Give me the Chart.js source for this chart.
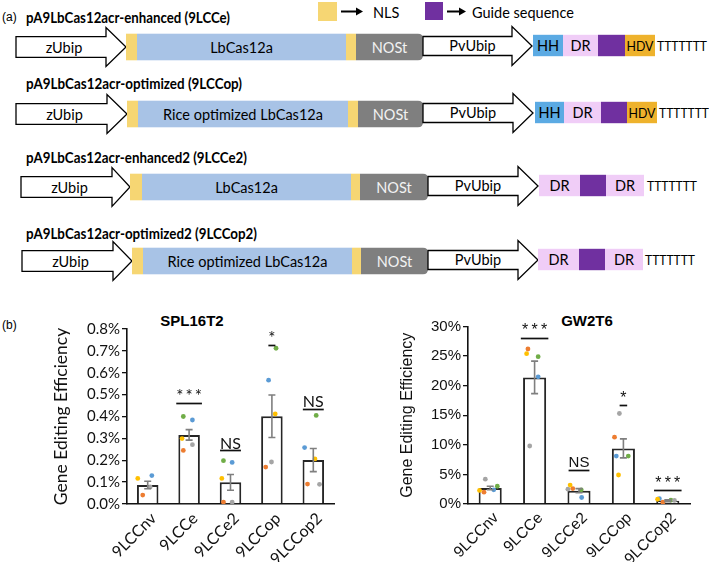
<!DOCTYPE html>
<html>
<head>
<meta charset="utf-8">
<script src="https://cdn.jsdelivr.net/npm/chart.js@4.4.1/dist/chart.umd.min.js"></script>
<style>
  html, body { margin: 0; padding: 0; background: #fff; width: 709px; height: 562px; overflow: hidden; }
  #diagram { position: absolute; left: 0; top: 0; }
  .box { position: absolute; }
  #lbl-b { position: absolute; left: 2px; top: 318px; font: 12px "Liberation Sans", Arial, sans-serif; }
  .ctitle { position: absolute; font: bold 15px "Liberation Sans", Arial, sans-serif; transform: translate(-50%, -50%); }
</style>
</head>
<body>
<svg id="diagram" width="709" height="300" xmlns="http://www.w3.org/2000/svg"></svg>
<div id="lbl-b">(b)</div>
<div class="ctitle" style="left:192px; top:320px">SPL16T2</div>
<div class="ctitle" style="left:587px; top:320px">GW2T6</div>
<div class="box" style="left:0; top:300px; width:345px; height:274px"><canvas id="spl-chart"></canvas></div>
<div class="box" style="left:355px; top:300px; width:354px; height:274px"><canvas id="gw-chart"></canvas></div>

<script>
// ---- data (values in %) ----
const categories = ["9LCCnv", "9LCCe", "9LCCe2", "9LCCop", "9LCCop2"]

// SPL16T2
const splMean = [0.087, 0.316, 0.099, 0.401, 0.201]
const splSem = [0.017, 0.024, 0.036, 0.097, 0.053]
const splYellow = [0.117, 0.299, 0.117, 0.412, 0.206]
const splOrange = [0.041, 0.245, 0.009, 0.169, 0.091]
const splGrey = [0.078, 0.271, 0.009, 0.192, 0.090]
const splBlue = [0.130, 0.384, 0.190, 0.566, 0.258]
const splGreen = [null, 0.400, 0.198, 0.712, 0.405]
// dot jitter, fraction of one category
const splYellowDx = [-0.24, -0.17, -0.21, 0.08, 0.04]
const splOrangeDx = [-0.12, -0.14, -0.17, -0.15, -0.14]
const splGreyDx = [0.06, 0.08, 0.04, -0.01, 0.15]
const splBlueDx = [0.10, 0.08, 0.04, -0.08, -0.21]
const splGreenDx = [0, -0.14, -0.17, 0.10, 0.07]
const splSigText = ["", "***", "NS", "*", "NS"]
const splSigY = [null, 0.508, 0.276, 0.773, 0.466]
const splSigLineY = [null, 0.462, 0.248, 0.727, 0.434]

// GW2T6
const gwMean = [2.7, 21.4, 2.25, 9.4, 0.55]
const gwSem = [0.3, 2.75, 0.35, 1.6, 0.15]
const gwYellow = [2.3, 25.4, 3.2, 4.9, 0.8]
const gwOrange = [2.0, 26.2, 2.6, 11.3, 0.3]
const gwGrey = [4.2, 9.8, 2.5, 15.3, 0.6]
const gwBlue = [2.4, 21.5, 1.1, 8.1, 0.9]
const gwGreen = [3.0, 24.9, 2.4, 8.1, 0.65]
const gwYellowDx = [-0.24, -0.18, -0.20, -0.11, -0.23]
const gwOrangeDx = [-0.14, -0.15, -0.14, -0.20, -0.11]
const gwGreyDx = [-0.11, -0.11, -0.25, -0.09, 0.15]
const gwBlueDx = [0.08, 0.08, 0.06, -0.16, -0.19]
const gwGreenDx = [0.16, 0.08, 0.05, 0.11, 0.07]
const gwSigText = ["", "***", "NS", "*", "***"]
const gwSigY = [null, 29.9, 7.0, 18.5, 4.05]
const gwSigLineY = [null, 28.0, 5.7, 16.8, 2.36]

const dotColors = { yellow: "#FFC000", orange: "#ED7D31", grey: "#A5A5A5", blue: "#5B9BD5", green: "#70AD47" }

// ---- construct diagram (part a) ----
const NS = "http://www.w3.org/2000/svg"
const svg = document.getElementById("diagram")
const FONT = "Lato, 'Open Sans', sans-serif"

function el(tag, attrs, text) {
  const e = document.createElementNS(NS, tag)
  for (const k in attrs) e.setAttribute(k, attrs[k])
  if (text != null) e.textContent = text
  svg.appendChild(e)
  return e
}
function label(x, y, text, size, opts = {}) {
  return el("text", Object.assign({
    x, y, "font-family": FONT, "font-size": size, "dominant-baseline": "central",
    "text-anchor": opts.anchor || "middle", fill: opts.fill || "#000",
    "font-weight": opts.weight || "normal"
  }, opts.extra || {}), text)
}
function arrow(x0, x1, x2, cy, bh, hh) {
  const pts = [[x0, cy - bh], [x1, cy - bh], [x1, cy - hh], [x2, cy], [x1, cy + hh], [x1, cy + bh], [x0, cy + bh]]
  el("polygon", { points: pts.map((p) => p.join(",")).join(" "), fill: "#fff", stroke: "#000", "stroke-width": 1.3 })
}

const rows = [
  { title: "pA9LbCas12acr-enhanced (9LCCe)", tw: 204, ty: 17, cy: 47, a1: [16, 106, 126], cas: [126, 137, 346, 356], casText: "LbCas12a", nos: 423, a2: [423, 512, 532],
    parts: [["HH", 533, 563], ["DR", 563, 598], ["", 598, 625], ["HDV", 625, 655]], t: 657 },
  { title: "pA9LbCas12acr-optimized (9LCCop)", tw: 216, ty: 83, cy: 114, a1: [16, 107, 127], cas: [127, 138, 348, 358], casText: "Rice optimized LbCas12a", nos: 423, a2: [423, 513, 533],
    parts: [["HH", 535, 564], ["DR", 564, 601], ["", 601, 627], ["HDV", 627, 657]], t: 659 },
  { title: "pA9LbCas12acr-enhanced2 (9LCCe2)", tw: 221, ty: 157, cy: 187, a1: [21, 112, 130], cas: [130, 142, 351, 360], casText: "LbCas12a", nos: 428, a2: [428, 518, 538],
    parts: [["DR", 539, 580], ["", 580, 606], ["DR", 606, 644]], t: 647 },
  { title: "pA9LbCas12acr-optimized2 (9LCCop2)", tw: 231, ty: 233, cy: 261, a1: [22, 113, 132], cas: [132, 143, 352, 361], casText: "Rice optimized LbCas12a", nos: 428, a2: [428, 518, 538],
    parts: [["DR", 538, 579], ["", 579, 605], ["DR", 605, 643]], t: 645 }
]
const partFill = { HH: "#5BAAE3", DR: "#F0CDF7", "": "#7030A0", HDV: "#EEB22C" }
const NLS_FILL = "#F6D673"

label(2, 17, "(a)", 12, { anchor: "start", extra: { "font-family": "'Liberation Sans', Arial, sans-serif" } })
rows.forEach((r) => {
  label(26, r.ty, r.title, 14.5, { anchor: "start", weight: "bold", extra: { textLength: r.tw, lengthAdjust: "spacingAndGlyphs" } })
  const cy = r.cy
  // promoter arrow
  arrow(r.a1[0], r.a1[1], r.a1[2], cy, 10.3, 19.4)
  label((r.a1[0] + r.a1[1]) / 2 + 3, cy, "zUbip", 14.5)
  // NLS - Cas - NLS
  const [n0, c0, c1, n1] = r.cas
  el("rect", { x: n0, y: cy - 13.3, width: c0 - n0, height: 26.6, fill: NLS_FILL })
  el("rect", { x: c0, y: cy - 13.3, width: c1 - c0, height: 26.6, fill: "#A8C3E6" })
  el("rect", { x: c1, y: cy - 13.3, width: n1 - c1, height: 26.6, fill: NLS_FILL })
  label((c0 + c1) / 2, cy, r.casText, 14.5)
  // NOSt terminator
  const rr = 5, top = cy - 13.3, bot = cy + 13.3
  el("path", { d: `M${n1},${top} H${r.nos - rr} Q${r.nos},${top} ${r.nos},${top + rr} V${bot - rr} Q${r.nos},${bot} ${r.nos - rr},${bot} H${n1} Z`, fill: "#7F7F7F" })
  label((n1 + r.nos) / 2, cy, "NOSt", 14.5, { fill: "#F2F2F2" })
  // pol III promoter arrow
  arrow(r.a2[0], r.a2[1], r.a2[2], cy - 1, 9.5, 19.5)
  label((r.a2[0] + r.a2[1]) / 2 + 5, cy - 2, "PvUbip", 14.5)
  // crRNA parts
  r.parts.forEach(([name, x0, x1]) => {
    el("rect", { x: x0, y: cy - 12.2, width: x1 - x0, height: 21.4, fill: partFill[name] })
    if (name === "HDV") label((x0 + x1) / 2, cy - 1.5, name, 14, { extra: { textLength: 27, lengthAdjust: "spacingAndGlyphs" } })
    else if (name) label((x0 + x1) / 2, cy - 1.5, name, 14.5)
  })
  label(r.t, cy - 1.5, "TTTTTTT", 13, { anchor: "start", extra: { textLength: 50, lengthAdjust: "spacingAndGlyphs" } })
})

// legend
function legendArrow(x0, x1, y) {
  el("line", { x1: x0, y1: y, x2: x1 - 5, y2: y, stroke: "#000", "stroke-width": 2 })
  el("polygon", { points: `${x1 - 7},${y - 4} ${x1},${y} ${x1 - 7},${y + 4}`, fill: "#000" })
}
el("rect", { x: 318, y: 2, width: 19, height: 19, fill: NLS_FILL })
legendArrow(341, 363, 11.5)
label(373, 12, "NLS", 14.5, { anchor: "start" })
el("rect", { x: 425, y: 2, width: 18, height: 18, fill: "#7030A0" })
legendArrow(447, 466, 11.5)
label(472, 12, "Guide sequence", 14.5, { anchor: "start" })

// ---- charts (part b) ----
const errorBars = {
  id: "errorBars",
  afterDatasetsDraw(chart, args, opts) {
    const { ctx } = chart
    const x = chart.scales.x, y = chart.scales.y
    ctx.save()
    ctx.strokeStyle = opts.color
    ctx.lineWidth = opts.width
    opts.mean.forEach((m, i) => {
      const px = x.getPixelForValue(i)
      const top = y.getPixelForValue(m + opts.sem[i])
      const bot = y.getPixelForValue(m - opts.sem[i])
      ctx.beginPath()
      ctx.moveTo(px, top); ctx.lineTo(px, bot)
      ctx.moveTo(px - opts.cap, top); ctx.lineTo(px + opts.cap, top)
      ctx.moveTo(px - opts.cap, bot); ctx.lineTo(px + opts.cap, bot)
      ctx.stroke()
    })
    ctx.restore()
  }
}

// significance marks: stars or "NS" with a bar under them
const sigMarks = {
  id: "sigMarks",
  afterDatasetsDraw(chart, args, opts) {
    const { ctx } = chart
    const x = chart.scales.x, y = chart.scales.y
    const cat = x.getPixelForValue(1) - x.getPixelForValue(0)
    ctx.save()
    ctx.fillStyle = "#111"
    ctx.strokeStyle = "#111"
    ctx.lineWidth = 1.7
    ctx.textAlign = "center"
    ctx.textBaseline = "middle"
    opts.text.forEach((t, i) => {
      if (!t) return
      const px = x.getPixelForValue(i)
      const ty = y.getPixelForValue(opts.textY[i])
      let w
      if (t === "NS") {
        ctx.font = opts.font
        ctx.fillText(t, px, ty)
        w = ctx.measureText(t).width
      } else {
        // asterisks sit high in the em box, so push them down a little
        ctx.font = opts.starFont
        const s = t.split("").join("\u2009")
        ctx.fillText(s, px, ty + 4)
        w = (t === "*" ? opts.starW : opts.starsW) * cat
      }
      const ly = Math.round(y.getPixelForValue(opts.lineY[i])) + 0.5
      ctx.beginPath()
      ctx.moveTo(px - w / 2, ly); ctx.lineTo(px + w / 2, ly)
      ctx.stroke()
    })
    ctx.restore()
  }
}

function dotSet(vals, dx, color) {
  return {
    type: "scatter",
    xAxisID: "xj",
    order: 1,
    data: vals.map((v, i) => ({ x: i + dx[i], y: v })).filter((p) => p.y != null),
    backgroundColor: color,
    borderWidth: 0,
    pointRadius: 2.4,
    pointHoverRadius: 2.4
  }
}

function makeChart(id, cfg) {
  const tickFont = { family: cfg.family, size: cfg.tickSize }
  new Chart(document.getElementById(id), {
    type: "bar",
    data: {
      labels: categories,
      datasets: [
        dotSet(cfg.dots[0], cfg.dx[0], dotColors.yellow),
        dotSet(cfg.dots[1], cfg.dx[1], dotColors.orange),
        dotSet(cfg.dots[2], cfg.dx[2], dotColors.grey),
        dotSet(cfg.dots[3], cfg.dx[3], dotColors.blue),
        dotSet(cfg.dots[4], cfg.dx[4], dotColors.green),
        {
          type: "bar",
          order: 2,
          grouped: false,
          data: cfg.mean,
          backgroundColor: "#fff",
          borderColor: "#262626",
          borderWidth: 2,
          borderSkipped: "bottom",
          barPercentage: 0.52,
          categoryPercentage: 1
        }
      ]
    },
    options: {
      responsive: true,
      maintainAspectRatio: false,
      animation: false,
      events: [],
      layout: { padding: { left: 0, right: cfg.padRight, top: cfg.padTop, bottom: 0 } },
      plugins: {
        legend: { display: false },
        tooltip: { enabled: false },
        errorBars: { mean: cfg.mean, sem: cfg.sem, color: "#7F7F7F", width: 1.6, cap: 3.5 },
        sigMarks: { text: cfg.sigText, textY: cfg.sigY, lineY: cfg.sigLineY, font: cfg.sigFont, starFont: cfg.starFont, starsW: 0.62, starW: 0.17 }
      },
      scales: {
        x: {
          type: "category",
          offset: true,
          grid: { display: false, drawTicks: false },
          border: { color: "#111", width: 1.6 },
          ticks: { autoSkip: false, minRotation: 45, maxRotation: 45, padding: 5, labelOffset: 6, color: "#111", font: { family: cfg.family, size: cfg.xTickSize } },
          afterFit: (s) => { s.height = 70 }
        },
        xj: { type: "linear", display: false, min: -0.5, max: 4.5, offset: false },
        y: {
          min: 0,
          max: cfg.yMax,
          ticks: { stepSize: cfg.yStep, callback: cfg.fmt, padding: 2, color: "#111", font: tickFont },
          grid: { drawOnChartArea: false, tickLength: 5, color: "#111", lineWidth: 1.3 },
          border: { color: "#111", width: 1.6 },
          title: { display: true, text: "Gene Editing Efficiency", color: "#111", font: { family: cfg.family, size: cfg.titleSize }, padding: { top: cfg.titlePad, bottom: 0 } },
          afterFit: (s) => { s.width = cfg.axisWidth }
        }
      }
    },
    plugins: [errorBars, sigMarks]
  })
}

makeChart("spl-chart", {
  mean: splMean, sem: splSem,
  dots: [splYellow, splOrange, splGrey, splBlue, splGreen],
  dx: [splYellowDx, splOrangeDx, splGreyDx, splBlueDx, splGreenDx],
  sigText: splSigText, sigY: splSigY, sigLineY: splSigLineY,
  sigFont: "16px Lato, sans-serif", starFont: "17px Lato, sans-serif",
  yMax: 0.8, yStep: 0.1, fmt: (v) => v.toFixed(1) + "%",
  family: "Lato, sans-serif", tickSize: 15, xTickSize: 16, titleSize: 17.5, titlePad: 51,
  axisWidth: 127, padRight: 11, padTop: 29
})

makeChart("gw-chart", {
  mean: gwMean, sem: gwSem,
  dots: [gwYellow, gwOrange, gwGrey, gwBlue, gwGreen],
  dx: [gwYellowDx, gwOrangeDx, gwGreyDx, gwBlueDx, gwGreenDx],
  sigText: gwSigText, sigY: gwSigY, sigLineY: gwSigLineY,
  sigFont: "15px 'Liberation Sans', Arial, sans-serif", starFont: "16px 'Liberation Sans', Arial, sans-serif",
  yMax: 30, yStep: 5, fmt: (v) => v + "%",
  family: "'Liberation Sans', Arial, sans-serif", tickSize: 15, xTickSize: 15.5, titleSize: 16, titlePad: 43,
  axisWidth: 113, padRight: 19, padTop: 26.5
})
</script>
</body>
</html>
